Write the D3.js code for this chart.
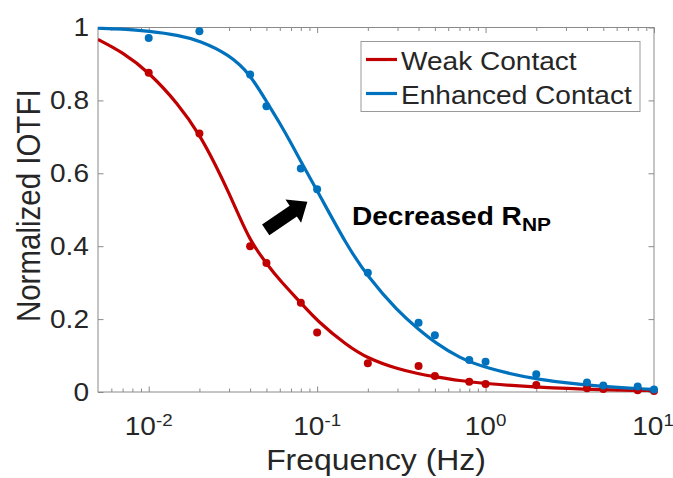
<!DOCTYPE html>
<html><head><meta charset="utf-8">
<script src="https://cdn.jsdelivr.net/npm/d3@7"></script>
<style>
body{margin:0;background:#fff;}
svg text{font-family:"Liberation Sans",Arial,Helvetica,sans-serif;fill:#262626;}
.sc{transform-box:fill-box;transform:scaleX(1.1);transform-origin:center;}
.sl{transform-box:fill-box;transform:scaleX(1.1);transform-origin:left;}
.sr{transform-box:fill-box;transform:scaleX(1.1);transform-origin:right;}
</style></head><body>
<svg id="c" width="673" height="478"></svg>
<script>
// ---------------- data ----------------
const seriesNames = ["Weak Contact", "Enhanced Contact"];
const seriesColors = ["#c00000", "#0072bd"];

const sampleFreq = [0.01, 0.02, 0.04, 0.05, 0.08, 0.1, 0.2, 0.4, 0.5, 0.8, 1, 2, 4, 5, 8, 10];
const weakData = [0.876, 0.709, 0.400, 0.354, 0.245, 0.163, 0.079, 0.071, 0.044, 0.028, 0.022, 0.019, 0.010, 0.008, 0.005, 0.003];
const enhancedData = [0.971, 0.990, 0.871, 0.784, 0.613, 0.556, 0.327, 0.190, 0.156, 0.088, 0.083, 0.049, 0.026, 0.018, 0.015, 0.007];

const weakFitFreq = [0.005, 0.007, 0.01, 0.015, 0.02, 0.025, 0.03, 0.035, 0.04, 0.045, 0.05, 0.06, 0.08, 0.1, 0.15, 0.2, 0.3, 0.4, 0.5, 0.7, 1, 2, 5, 10];
const weakFit = [0.967, 0.932, 0.878, 0.790, 0.707, 0.622, 0.545, 0.475, 0.418, 0.382, 0.353, 0.306, 0.245, 0.195, 0.128, 0.092, 0.063, 0.050, 0.042, 0.031, 0.023, 0.013, 0.006, 0.003];

const enhancedFitFreq = [0.005, 0.007, 0.01, 0.015, 0.02, 0.03, 0.04, 0.05, 0.06, 0.07, 0.08, 0.1, 0.15, 0.2, 0.3, 0.4, 0.5, 0.7, 1, 2, 5, 10];
const enhancedFit = [0.998, 0.996, 0.990, 0.979, 0.964, 0.926, 0.872, 0.797, 0.738, 0.683, 0.632, 0.553, 0.402, 0.316, 0.222, 0.172, 0.136, 0.093, 0.066, 0.033, 0.014, 0.007];

const xDomain = [0.005, 10];
const yDomain = [0, 1];
const xTickValues = [0.01, 0.1, 1, 10];
const xTickExponents = ["-2", "-1", "0", "1"];
const yTickValues = [0, 0.2, 0.4, 0.6, 0.8, 1];
const yTickLabels = ["0", "0.2", "0.4", "0.6", "0.8", "1"];
const xLabel = "Frequency (Hz)";
const yLabel = "Normalized IOTFI";
const annotationText = "Decreased R";
const annotationSub = "NP";
const arrowFrom = [0.0495, 0.445];
const arrowTo = [0.0875, 0.522];
const annotationPos = [0.161, 0.458];

// ---------------- layout ----------------
const L = 98, R = 654, T = 27.5, B = 392;
const svg = d3.select("#c");
const x = d3.scaleLog().domain(xDomain).range([L, R]);
const y = d3.scaleLinear().domain(yDomain).range([B, T]);
const axisColor = "#8a8a8a";

// minor ticks
const minorTicks = [];
for (let e = -3; e <= 0; e++) for (let m = 2; m <= 9; m++) {
  const v = m * Math.pow(10, e);
  if (v > xDomain[0] && v < xDomain[1]) minorTicks.push(v);
}

function styleAxis(g) {
  g.select(".domain").remove();
  g.selectAll("line").attr("stroke", axisColor).attr("stroke-width", 1);
  g.selectAll("text").remove();
}
svg.append("g").attr("transform", `translate(0,${B})`)
  .call(d3.axisBottom(x).tickValues(xTickValues).tickSize(-5.5).tickFormat("")).call(styleAxis);
svg.append("g").attr("transform", `translate(0,${B})`)
  .call(d3.axisBottom(x).tickValues(minorTicks).tickSize(-3.5).tickFormat("")).call(styleAxis);
svg.append("g").attr("transform", `translate(0,${T})`)
  .call(d3.axisTop(x).tickValues(xTickValues).tickSize(-5.5).tickFormat("")).call(styleAxis);
svg.append("g").attr("transform", `translate(0,${T})`)
  .call(d3.axisTop(x).tickValues(minorTicks).tickSize(-3.5).tickFormat("")).call(styleAxis);
svg.append("g").attr("transform", `translate(${L},0)`)
  .call(d3.axisLeft(y).tickValues(yTickValues).tickSize(-5.5).tickFormat("")).call(styleAxis);
svg.append("g").attr("transform", `translate(${R},0)`)
  .call(d3.axisRight(y).tickValues(yTickValues).tickSize(-5.5).tickFormat("")).call(styleAxis);

svg.append("rect").attr("x", L).attr("y", T).attr("width", R - L).attr("height", B - T)
  .attr("fill", "none").attr("stroke", axisColor).attr("stroke-width", 1);

// tick labels
const xt = svg.append("g");
xTickValues.forEach((v, i) => {
  const t = xt.append("text").attr("class", "sc").attr("x", x(v) - (i === xTickValues.length - 1 ? 1 : 0)).attr("y", 435)
    .attr("text-anchor", "middle").attr("font-size", 25.5);
  t.append("tspan").text("10");
  t.append("tspan").attr("font-size", 17).attr("dy", -9).text(xTickExponents[i]);
});
yTickValues.forEach((v, i) => {
  svg.append("text").attr("class", "sr").attr("x", 89).attr("y", y(v) + 9)
    .attr("text-anchor", "end").attr("font-size", 25.5).text(yTickLabels[i]);
});

// axis labels
svg.append("text").attr("class", "sc").attr("x", (L + R) / 2).attr("y", 470)
  .attr("text-anchor", "middle").attr("font-size", 29).text(xLabel);
svg.append("text").attr("transform", `translate(40,${(T + B) / 2 - 4}) rotate(-90) scale(1,1.1)`)
  .attr("text-anchor", "middle").attr("font-size", 29.5).text(yLabel);

// clip
svg.append("clipPath").attr("id", "clip").append("rect")
  .attr("x", L).attr("y", T - 3).attr("width", R - L + 2).attr("height", B - T + 3);

const line = d3.line().x(d => x(d[0])).y(d => y(d[1])).curve(d3.curveBasis);
const plot = svg.append("g").attr("clip-path", "url(#clip)");
const fits = [
  weakFitFreq.map((f, i) => [f, weakFit[i]]),
  enhancedFitFreq.map((f, i) => [f, enhancedFit[i]])
];
const pts = [
  sampleFreq.map((f, i) => [f, weakData[i]]),
  sampleFreq.map((f, i) => [f, enhancedData[i]])
];
[0, 1].forEach(k => {
  plot.append("path").datum(fits[k]).attr("d", line).attr("fill", "none")
    .attr("stroke", seriesColors[k]).attr("stroke-width", 3.2);
});
[0, 1].forEach(k => {
  svg.append("g").selectAll("circle").data(pts[k]).join("circle")
    .attr("cx", d => x(d[0])).attr("cy", d => y(d[1])).attr("r", 4)
    .attr("fill", seriesColors[k]);
});

// legend
const lg = svg.append("g");
lg.append("rect").attr("x", 361).attr("y", 41.5).attr("width", 279).attr("height", 70)
  .attr("fill", "#fff").attr("stroke", "#9a9a9a").attr("stroke-width", 1);
seriesNames.forEach((n, i) => {
  const yy = 59.5 + i * 34;
  lg.append("line").attr("x1", 366).attr("x2", 397).attr("y1", yy).attr("y2", yy)
    .attr("stroke", seriesColors[i]).attr("stroke-width", 3.2);
  lg.append("text").attr("class", "sl").attr("x", 401).attr("y", yy + 10.5)
    .attr("font-size", 25.5).text(n);
});

// arrow annotation
const ax0 = x(arrowFrom[0]), ay0 = y(arrowFrom[1]), ax1 = x(arrowTo[0]), ay1 = y(arrowTo[1]);
const dx = ax1 - ax0, dy = ay1 - ay0, len = Math.hypot(dx, dy);
const ux = dx / len, uy = dy / len, px = -uy, py = ux;
const sw = 6.5, hw = 14, hl = 17;
const bx = ax1 - ux * hl, by = ay1 - uy * hl;
const poly = [
  [ax0 + px * sw, ay0 + py * sw], [bx + px * sw, by + py * sw], [bx + px * hw, by + py * hw],
  [ax1, ay1], [bx - px * hw, by - py * hw], [bx - px * sw, by - py * sw], [ax0 - px * sw, ay0 - py * sw]
];
svg.append("path").attr("d", d3.line()(poly) + "Z").attr("fill", "#000");

const at = svg.append("text").attr("class", "sl").attr("x", x(annotationPos[0])).attr("y", y(annotationPos[1]))
  .attr("font-size", 25.5).attr("font-weight", "bold").style("fill", "#000");
at.append("tspan").text(annotationText);
at.append("tspan").attr("font-size", 19).attr("dy", 6).text(annotationSub);
</script>
</body></html>
